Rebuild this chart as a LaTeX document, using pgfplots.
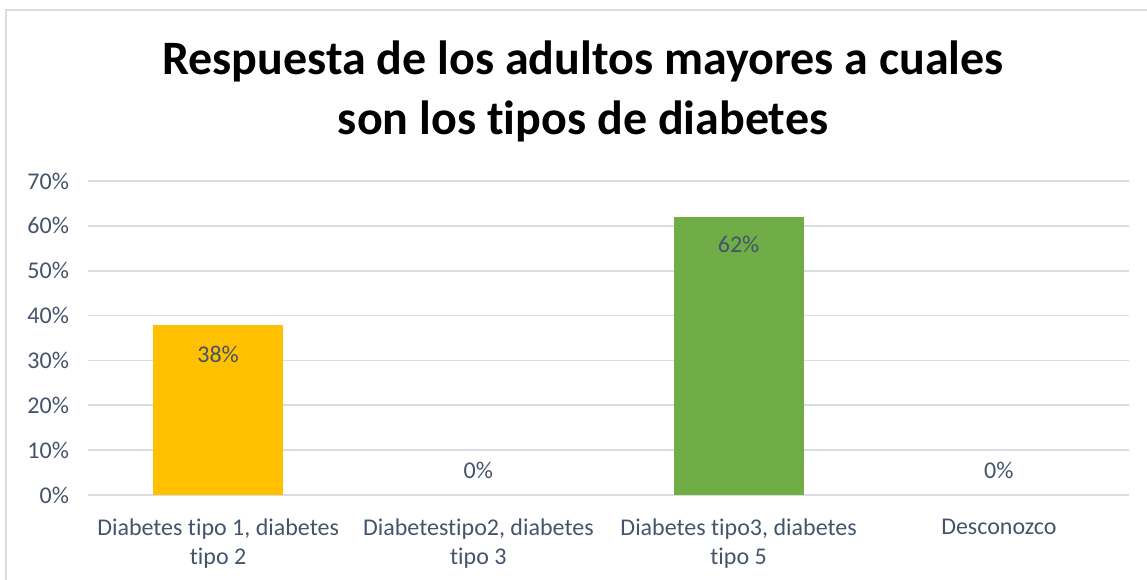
\documentclass[border=0pt]{standalone}
\usepackage{pgfplots}
\pgfplotsset{compat=1.18}
\usepackage{fontspec}
\setmainfont{Carlito}[Ligatures={NoCommon}]
\definecolor{txt}{HTML}{44546A}
\definecolor{gridc}{HTML}{D9DCE1}
\definecolor{cyel}{HTML}{FFC000}
\definecolor{cgrn}{HTML}{70AD47}
\begin{document}
\begin{tikzpicture}
\useasboundingbox (0,0) rectangle (573.5pt,289.5pt);
\draw[draw=gridc, line width=1pt] (3pt,-3pt) -- (3pt,284.5pt) -- (580pt,284.5pt);
\node[anchor=base, font=\fontsize{24}{28}\selectfont\bfseries] at (291.5pt,252pt) {Respuesta de los adultos mayores a cuales};
\node[anchor=base, font=\fontsize{24}{28}\selectfont\bfseries] at (291.5pt,222pt) {son los tipos de diabetes};
\begin{axis}[
  at={(44pt,42pt)}, anchor=south west,
  width=520.5pt, height=157pt, scale only axis,
  xmin=-0.5, xmax=3.5, ymin=0, ymax=70,
  ytick={0,10,...,70},
  yticklabel={\pgfmathprintnumber{\tick}\%},
  ymajorgrids, xmajorgrids=false, grid style={draw=gridc, line width=0.9pt},
  axis line style={draw=none},
  major tick length=0pt,
  xtick={0,1,2,3},
  xticklabels={{Diabetes tipo 1, diabetes\\tipo 2},{Diabetestipo2, diabetes\\tipo 3},{Diabetes tipo3, diabetes\\tipo 5},{Desconozco}},
  xticklabel style={align=center, font=\fontsize{12}{14.5}\selectfont, text=txt, yshift=-8.5pt},
  yticklabel style={font=\fontsize{12}{14}\selectfont, text=txt, xshift=-6pt},
  /pgf/number format/assume math mode=true,
  ybar, bar width=0.5, bar shift=0pt,
  clip=false,
]
\addplot[fill=cyel, draw=none, nodes near coords={\pgfmathprintnumber{\pgfplotspointmeta}\%},
  every node near coord/.style={anchor=center, yshift=-15pt, font=\fontsize{12}{14}\selectfont, text=txt}] coordinates {(0,38)};
\addplot[fill=cgrn, draw=none, nodes near coords={\pgfmathprintnumber{\pgfplotspointmeta}\%},
  every node near coord/.style={anchor=center, yshift=-14pt, font=\fontsize{12}{14}\selectfont, text=txt}] coordinates {(2,62)};
\addplot[draw=none, fill=none, nodes near coords={\pgfmathprintnumber{\pgfplotspointmeta}\%},
  every node near coord/.style={anchor=center, yshift=12.5pt, font=\fontsize{12}{14}\selectfont, text=txt}] coordinates {(1,0) (3,0)};
\end{axis}
\end{tikzpicture}
\end{document}
